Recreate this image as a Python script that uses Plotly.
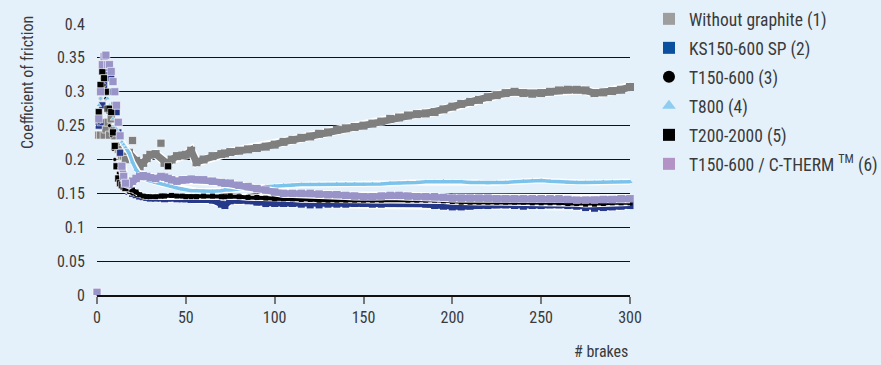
import plotly.graph_objects as go

BRAKES = [0, 1, 2, 3, 4, 5, 6, 7, 8, 9, 10, 11, 12, 13, 14, 15, 16,
          18, 20, 22, 24, 26, 28, 30,
          33, 36, 38, 40, 42, 45, 48, 50, 53, 56, 60,
          65, 70, 72, 75,
          80, 85, 90, 95, 100, 105, 110, 115, 120, 125, 130, 135, 140, 145, 150,
          155, 160, 165, 170, 175, 180, 185, 190, 195, 200, 205, 210, 215, 220, 225,
          230, 235, 240, 245, 250, 255, 260, 265, 270, 275, 280, 285, 290, 295, 300]

WITHOUT_GRAPHITE = [None, .236, .236, .25, .236, .245, .255, .236, .26, .245, .235, .22, .215, .21, .205, .205, .2,
                    .21, None, .198, .19, .195, .202, .207,
                    .208, None, .195, .193, .2, .205, .206, .207, .213, .196, .2,
                    .205, .208, .209, .211,
                    .213, .215, .217, .219, .222, .226, .229, .232, .234, .238, .24, .244, .246, .248, .25,
                    .253, .256, .26, .262, .265, .267, .268, .27, .274, .278, .282, .285, .288, .292, .295,
                    .298, .3, .298, .297, .298, .3, .302, .303, .303, .302, .298, .299, .301, .303, .307]
WITHOUT_GRAPHITE_OUTLIER_X = [20, 36]
WITHOUT_GRAPHITE_OUTLIER_Y = [.228, .224]

KS150_600_SP = [.004, .25, .255, .28, .31, .33, .335, .335, .32, .30, .28, .27, .24, .21, .18, .165, .158,
                .153, .15, .148, .146, .145, .144, .143,
                .143, .143, .142, .143, .143, .142, .142, .142, .141, .141, .141,
                .14, .134, .132, .139,
                .14, .139, .137, .135, .135, .135, .135, .134, .133, .133, .134, .134, .134, .135, .135,
                .134, .134, .135, .135, .135, .135, .134, .132, .131, .13, .13, .131, .132, .132, .133,
                .133, .132, .131, .132, .132, .133, .133, .132, .131, .129, .128, .129, .13, .131, .132]

T150_600 = [None, .255, .29, .32, .31, .29, .27, .25, .235, .215, .2, .19, .18, .17, .165, .16, .157,
            .152, .15, .148, .147, .146, .146, .146,
            .146, .147, .147, .146, .146, .146, .146, .146, .146, .147, .147,
            .147, .147, .148, .148,
            .147, .146, .145, .144, .143, .143, .142, .142, .142, .141, .141, .141, .141, .14, .14,
            .14, .14, .141, .141, .141, .141, .141, .14, .14, .139, .139, .139, .139, .138, .138,
            .138, .138, .138, .137, .137, .137, .137, .137, .137, .136, .136, .136, .137, .137, .137]

T800 = [None, .28, .29, .30, .30, .295, .29, .28, .27, .26, .25, .245, .24, .232, .226, .222, .218,
        .21, .196, .185, .178, .172, .17, .168,
        .166, .164, .163, .162, .16, .158, .156, .155, .154, .154, .153,
        .153, .154, .155, .155,
        .157, .158, .159, .16, .161, .162, .162, .163, .163, .163, .163, .164, .164, .164, .163,
        .164, .164, .165, .165, .166, .166, .167, .167, .168, .167, .167, .166, .166, .165, .166,
        .166, .167, .168, .169, .169, .168, .167, .166, .166, .166, .166, .167, .167, .167, .167]

T200_2000 = [None, .27, .31, .33, .32, .30, .275, .275, .27, .24, .22, .19, .172, .165, .162, .16, .158,
             .156, .155, .152, .148, .146, .145, .145,
             .145, .146, .146, None, .147, .146, .146, .145, .145, .145, .146,
             .146, .145, .145, .146,
             .145, .144, .144, .143, .142, .142, .142, .141, .141, .14, .14, .14, .14, .14, .14,
             .14, .14, .141, .141, .14, .14, .14, .14, .139, .138, .137, .137, .137, .137, .137,
             .137, .137, .137, .136, .136, .136, .136, .135, .135, .134, .134, .135, .136, .136, .136]
T200_2000_OUTLIER_X = [40]
T200_2000_OUTLIER_Y = [.19]

T150_600_CTHERM = [.004, .26, .30, .34, .352, .354, .34, .34, .33, .315, .30, .28, .255, .235, .19, .175, .165,
                   .163, .168, .172, .175, .176, .175, .173,
                   .172, .175, .174, .172, .17, .168, .17, .17, .171, .17, .17,
                   .168, .166, .165, .165,
                   .162, .16, .157, .155, .152, .15, .15, .15, .15, .149, .148, .148, .147, .146, .145,
                   .145, .146, .147, .147, .146, .145, .145, .145, .144, .143, .143, .143, .143, .143, .142,
                   .142, .142, .142, .142, .142, .142, .142, .141, .14, .14, .14, .141, .141, .142, .142]

SERIES_NAMES = ["Without graphite (1)", "KS150-600 SP (2)", "T150-600 (3)", "T800 (4)",
                "T200-2000 (5)", "T150-600 / C-THERM <sup>TM</sup> (6)"]
Y_TICKS = [0, 0.05, 0.1, 0.15, 0.2, 0.25, 0.3, 0.35, 0.4]
Y_TICK_TEXT = ["0", "0.05", "0.1", "0.15", "0.2", "0.25", "0.3", "0.35", "0.4"]
X_TICKS = [0, 50, 100, 150, 200, 250, 300]

FONT = "Liberation Sans Narrow, Roboto Condensed, DejaVu Sans Condensed, Arial Narrow, sans-serif"
BG = "#e4f1fb"
TXT = "#3a3a3a"

series = [
    # values, outliers x, outliers y, plot color, legend color, symbol, early marker size, band width
    (WITHOUT_GRAPHITE, WITHOUT_GRAPHITE_OUTLIER_X, WITHOUT_GRAPHITE_OUTLIER_Y,
     "#7f7f7f", "#9e9e9e", "square", 8, 7),
    (KS150_600_SP, [], [], "#26388a", "#0a509f", "square", 7, 6),
    (T150_600, [], [], "#000000", "#000000", "circle", 4, 3.5),
    (T800, [], [], "#7cc3ec", "#8fcdf0", "triangle-up", 5, 3.5),
    (T200_2000, T200_2000_OUTLIER_X, T200_2000_OUTLIER_Y, "#000000", "#000000", "square", 7, 4),
    (T150_600_CTHERM, [], [], "#9994c8", "#b392c6", "square", 8, 6.5),
]

EARLY_END = 16   # last brake drawn as separate scattered points
BAND_START = 14  # first brake drawn as a continuous band

fig = go.Figure()


def band(vals):
    xs = [b for b, v in zip(BRAKES, vals) if b >= BAND_START and v is not None]
    ys = [v for b, v in zip(BRAKES, vals) if b >= BAND_START and v is not None]
    return xs, ys


for vals, ox, oy, col, lcol, sym, msz, bw in series:
    # white halo, then the band itself
    xs, ys = band(vals)
    fig.add_trace(go.Scatter(x=xs, y=ys, mode="lines", showlegend=False, hoverinfo="skip",
                             line=dict(color="white", width=bw + 2.5), cliponaxis=False))
    fig.add_trace(go.Scatter(x=xs, y=ys, mode="lines+markers", showlegend=False, cliponaxis=False,
                             line=dict(color=col, width=bw),
                             marker=dict(symbol="square" if sym == "square" else sym,
                                         size=bw + 1, color=col)))
    # early scattered readings and isolated readings
    xe = [b for b, v in zip(BRAKES, vals) if b <= EARLY_END and v is not None] + ox
    ye = [v for b, v in zip(BRAKES, vals) if b <= EARLY_END and v is not None] + oy
    fig.add_trace(go.Scatter(x=xe, y=ye, mode="markers", showlegend=False, cliponaxis=False,
                             marker=dict(symbol=sym, size=msz, color=col,
                                         line=dict(color="white", width=0.6))))

# legend entries
for i, ((vals, ox, oy, col, lcol, sym, msz, bw), name) in enumerate(zip(series, SERIES_NAMES)):
    fig.add_trace(go.Scatter(x=[None], y=[None], mode="markers", name=name,
                             legendgroup=f"g{i}",
                             marker=dict(symbol=sym, size=13, color=lcol)))

fig.update_layout(
    width=881, height=365,
    margin=dict(l=97, r=251, t=24, b=70, autoexpand=False),
    paper_bgcolor=BG, plot_bgcolor=BG,
    font=dict(family=FONT, size=15, color=TXT),
    showlegend=True,
    legend=dict(x=1.0356, y=1.085, xanchor="left", yanchor="top",
                bgcolor="rgba(0,0,0,0)", font=dict(size=17.5, color=TXT),
                tracegroupgap=3.25, itemsizing="constant"),
    xaxis=dict(range=[0, 300], tickvals=X_TICKS, ticks="outside", ticklen=7,
               tickcolor="#777777", tickwidth=1.5, showgrid=False, zeroline=False,
               showline=True, linecolor="#111111", linewidth=1.5,
               tickfont=dict(size=16, color=TXT)),
    yaxis=dict(range=[0, 0.4], tickvals=Y_TICKS, ticktext=Y_TICK_TEXT,
               showgrid=True, gridcolor="#111111", gridwidth=1, zeroline=False,
               showline=False, ticks="outside", ticklen=8, tickcolor=BG,
               tickfont=dict(size=16, color=TXT)),
    annotations=[
        dict(text="# brakes", xref="paper", yref="paper", x=1.0, y=-0.21,
             xanchor="right", yanchor="middle", showarrow=False,
             font=dict(size=16, color=TXT)),
        dict(text="Coefficient of friction", xref="paper", yref="paper",
             x=-0.1295, y=0.786, xanchor="center", yanchor="middle",
             textangle=-90, showarrow=False, font=dict(size=16, color=TXT)),
    ],
)

fig.write_html("out.html")
